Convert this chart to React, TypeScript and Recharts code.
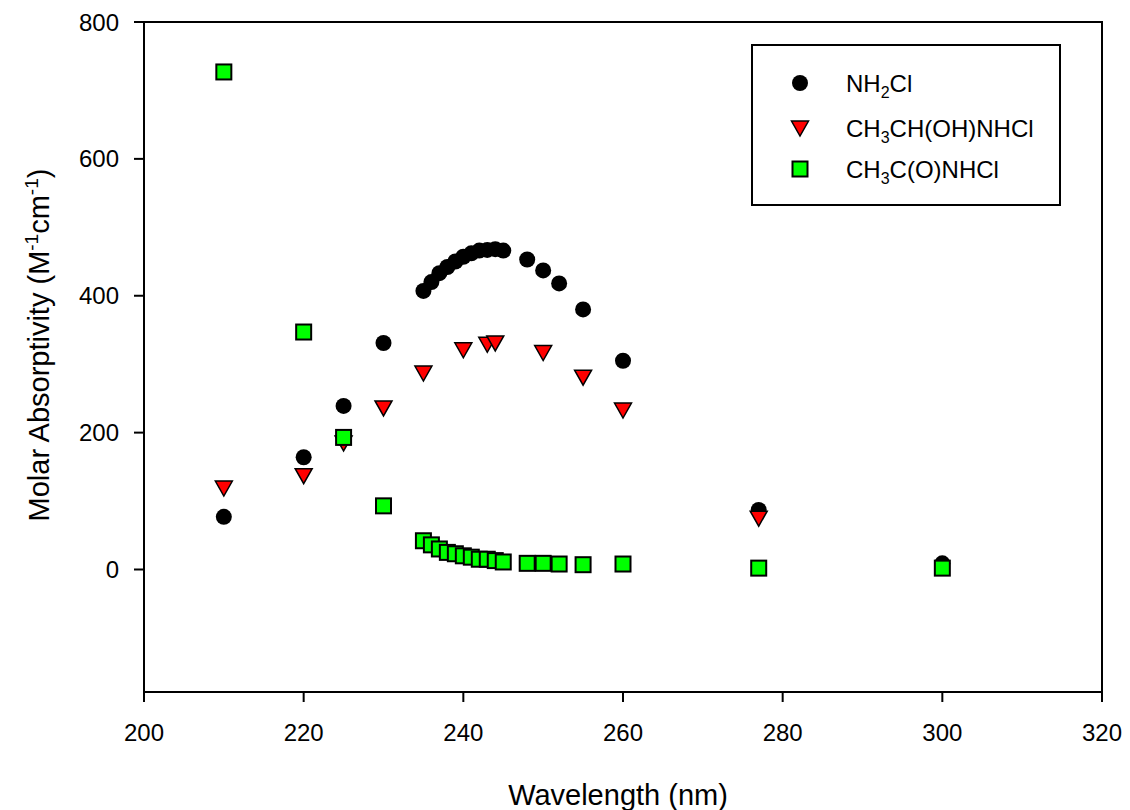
import { Label, ReferenceArea, Scatter, ScatterChart, XAxis, YAxis } from "recharts";

const FONT = "'Liberation Sans', Arial, Helvetica, sans-serif";

// wavelengths (nm)
const nh2clX = [210, 220, 225, 230, 235, 236, 237, 238, 239, 240, 241, 242, 243, 244, 245, 248, 250, 252, 255, 260, 277, 300];
const nh2clY = [77, 164, 239, 331, 407, 420, 433, 442, 450, 457, 462, 466, 467, 468, 466, 453, 437, 418, 380, 305, 87, 9];

const ethX = [210, 220, 225, 230, 235, 240, 243, 244, 250, 255, 260, 277];
const ethY = [119, 137, 185, 236, 287, 321, 329, 331, 317, 281, 233, 75];

const acetX = [210, 220, 225, 230, 235, 236, 237, 238, 239, 240, 241, 242, 243, 244, 245, 248, 250, 252, 255, 260, 277, 300];
const acetY = [727, 347, 193, 93, 42, 36, 30, 25, 23, 20, 18, 15, 15, 13, 11, 9, 9, 8, 7, 8, 2, 2];

const xTicks = [200, 220, 240, 260, 280, 300, 320];
const yTicks = [0, 200, 400, 600, 800];

const toPoints = (xs: number[], ys: number[]) => xs.map((x, i) => ({ x, y: ys[i] }));

const CircleShape = (p: any) => <circle cx={p.cx} cy={p.cy} r={8} fill="#000" />;
const TriShape = (p: any) => (
  <polygon
    points={`${p.cx - 8.5},${p.cy - 7} ${p.cx + 8.5},${p.cy - 7} ${p.cx},${p.cy + 8}`}
    fill="#ff0000"
    stroke="#000"
    strokeWidth={1.5}
    strokeLinejoin="miter"
  />
);
const SquareShape = (p: any) => (
  <rect x={p.cx - 7.5} y={p.cy - 7.5} width={15} height={15} fill="#00ff00" stroke="#000" strokeWidth={2} />
);

const Legend = () => (
  <svg
    width={312}
    height={164}
    style={{ position: "absolute", left: 750, top: 43, fontFamily: FONT }}
  >
    <rect x={2} y={2} width={308} height={160} fill="#fff" stroke="#000" strokeWidth={2} />
    <circle cx={50} cy={40} r={8} fill="#000" />
    <text x={96} y={49} fontSize={24}>
      NH<tspan fontSize={16} dy={6}>2</tspan>
      <tspan dy={-6}>Cl</tspan>
    </text>
    <polygon points="41.5,78 58.5,78 50,93" fill="#ff0000" stroke="#000" strokeWidth={1.5} />
    <text x={96} y={94} fontSize={24}>
      CH<tspan fontSize={16} dy={6}>3</tspan>
      <tspan dy={-6}>CH(OH)NHCl</tspan>
    </text>
    <rect x={42.5} y={118.5} width={15} height={15} fill="#00ff00" stroke="#000" strokeWidth={2} />
    <text x={96} y={135} fontSize={24}>
      CH<tspan fontSize={16} dy={6}>3</tspan>
      <tspan dy={-6}>C(O)NHCl</tspan>
    </text>
  </svg>
);

const App = () => {
  return (
    <div style={{ position: "absolute", left: 0, top: 0, width: 1130, height: 810, background: "#fff" }}>
      <ScatterChart width={1130} height={810} margin={{ top: 22, right: 28, bottom: 0, left: 0 }}>
        <XAxis
          type="number"
          dataKey="x"
          domain={[200, 320]}
          ticks={xTicks}
          allowDataOverflow
          height={118}
          tickSize={10}
          tickMargin={22}
          axisLine={{ stroke: "#000", strokeWidth: 2 }}
          tickLine={{ stroke: "#000", strokeWidth: 2 }}
          tick={{ fill: "#000", fontSize: 24, fontFamily: FONT }}
        >
          <Label
            content={() => (
              <text x={618} y={805} textAnchor="middle" fontSize={29} fontFamily={FONT} fill="#000">
                Wavelength (nm)
              </text>
            )}
          />
        </XAxis>
        <YAxis
          type="number"
          dataKey="y"
          domain={[-179, 800]}
          ticks={yTicks}
          allowDataOverflow
          width={144}
          tickSize={10}
          tickMargin={15}
          axisLine={{ stroke: "#000", strokeWidth: 2 }}
          tickLine={{ stroke: "#000", strokeWidth: 2 }}
          tick={{ fill: "#000", fontSize: 24, fontFamily: FONT }}
        >
          <Label
            content={() => (
              <text
                x={49}
                y={345}
                transform="rotate(-90, 49, 345)"
                textAnchor="middle"
                fontSize={29}
                fontFamily={FONT}
                fill="#000"
              >
                Molar Absorptivity (M<tspan fontSize={19} dy={-11}>-1</tspan>
                <tspan dy={11}>cm</tspan>
                <tspan fontSize={19} dy={-11}>-1</tspan>
                <tspan dy={11}>)</tspan>
              </text>
            )}
          />
        </YAxis>
        <ReferenceArea x1={200} x2={320} y1={-179} y2={800} fill="none" stroke="#000" strokeWidth={2} />
        <Scatter name="NH2Cl" data={toPoints(nh2clX, nh2clY)} shape={CircleShape} isAnimationActive={false} />
        <Scatter name="CH3CH(OH)NHCl" data={toPoints(ethX, ethY)} shape={TriShape} isAnimationActive={false} />
        <Scatter name="CH3C(O)NHCl" data={toPoints(acetX, acetY)} shape={SquareShape} isAnimationActive={false} />
      </ScatterChart>
      <Legend />
    </div>
  );
};

export default App;
